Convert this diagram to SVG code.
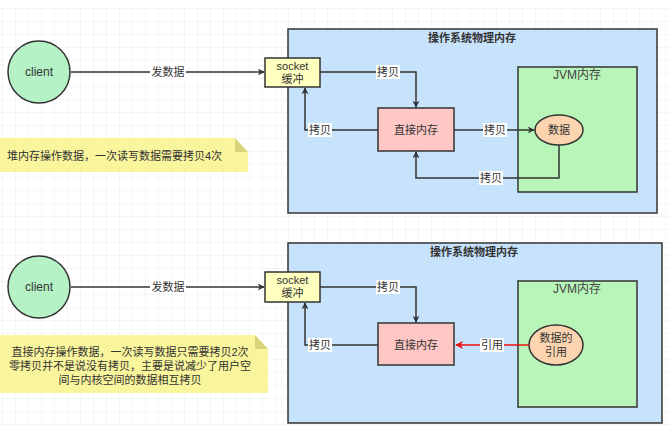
<svg xmlns="http://www.w3.org/2000/svg" width="670" height="435" viewBox="0 0 670 435">
<defs>
<pattern id="grid" width="13" height="13" patternUnits="userSpaceOnUse" x="2" y="8">
<path d="M13 0H0V13" fill="none" stroke="#ebebeb" stroke-width="1"/>
</pattern>
<marker id="ah" viewBox="0 0 10 10" refX="9" refY="5" markerWidth="7" markerHeight="7" orient="auto" markerUnits="userSpaceOnUse">
<path d="M0 0L10 5L0 10L3 5Z" fill="#333"/>
</marker>
<marker id="ahr" viewBox="0 0 10 10" refX="9" refY="5" markerWidth="8" markerHeight="8" orient="auto" markerUnits="userSpaceOnUse">
<path d="M0 0L10 5L0 10L3 5Z" fill="#ee1111"/>
</marker>
<style>
text{font-family:"Liberation Sans","Noto Sans CJK SC",sans-serif;font-size:11px;fill:#333;}
.c{text-anchor:middle;}
.os{fill:#c7e2fb;stroke:#333;stroke-width:1.5;}
.jvm{fill:#b8f5b8;stroke:#333;stroke-width:1.5;}
.dm{fill:#ffc6c6;stroke:#333;stroke-width:1.5;}
.sock{fill:#ffffc0;stroke:#333;stroke-width:1.5;}
.cl{fill:#b5f2c6;stroke:#333;stroke-width:1.5;}
.dat{fill:#fcd5b0;stroke:#333;stroke-width:1.5;}
.note{fill:#f9f59c;}
.fold{fill:#d9d47a;}
.ln{fill:none;stroke:#333;stroke-width:1.5;marker-end:url(#ah);}
.lnr{fill:none;stroke:#ee1111;stroke-width:1.5;marker-end:url(#ahr);}
.lb{fill:#fff;}
.title{font-weight:bold;}
.jl{fill:#444;font-size:12px;}
</style>
</defs>
<rect width="670" height="435" fill="#fff"/>
<rect x="0" y="8" width="670" height="418" fill="url(#grid)"/>

<!-- Top section -->
<g id="os1"><rect class="os" x="288" y="29" width="369" height="184"/><text class="c title" x="472" y="42">操作系统物理内存</text></g>
<g id="jvm1"><rect class="jvm" x="518" y="67" width="119" height="125"/><text class="c jl" x="577" y="79">JVM内存</text></g>
<g id="client1"><circle class="cl" cx="39" cy="72" r="31"/><text class="c" x="39" y="76" style="font-size:12px">client</text></g>
<g id="sock1"><rect class="sock" x="265" y="58" width="55" height="29"/><text class="c" x="292.5" y="70">socket</text><text class="c" x="292.5" y="83">缓冲</text></g>
<g id="dm1"><rect class="dm" x="378" y="108" width="76" height="43"/><text class="c" x="416" y="134">直接内存</text></g>
<g id="data1"><ellipse class="dat" cx="559" cy="130" rx="24" ry="15"/><text class="c" x="559" y="134">数据</text></g>
<g id="note1"><path class="note" d="M0 138H235L248 152V172H0Z"/><path class="fold" d="M235 138V152H248Z"/><text x="7" y="160">堆内存操作数据，一次读写数据需要拷贝4次</text></g>

<g id="edges1">
<path class="ln" d="M71 72H264"/>
<rect class="lb" x="150" y="65" width="36" height="14"/><text class="c" x="168" y="76">发数据</text>
<path class="ln" d="M320 72H416V107"/>
<rect class="lb" x="376" y="65" width="24" height="14"/><text class="c" x="388" y="76">拷贝</text>
<path class="ln" d="M378 130H305V88"/>
<rect class="lb" x="308" y="123" width="24" height="14"/><text class="c" x="320" y="134">拷贝</text>
<path class="ln" d="M454 130H534"/>
<rect class="lb" x="483" y="123" width="24" height="14"/><text class="c" x="495" y="134">拷贝</text>
<path class="ln" d="M559 145V178H416V152"/>
<rect class="lb" x="479" y="171" width="24" height="14"/><text class="c" x="491" y="182">拷贝</text>
</g>

<!-- Bottom section -->
<g id="os2"><rect class="os" x="288" y="243" width="374" height="180"/><text class="c title" x="474" y="256">操作系统物理内存</text></g>
<g id="jvm2"><rect class="jvm" x="518" y="281" width="119" height="126"/><text class="c jl" x="577" y="293">JVM内存</text></g>
<g id="client2"><circle class="cl" cx="39" cy="287" r="31"/><text class="c" x="39" y="291" style="font-size:12px">client</text></g>
<g id="sock2"><rect class="sock" x="265" y="272" width="55" height="30"/><text class="c" x="292.5" y="284">socket</text><text class="c" x="292.5" y="297">缓冲</text></g>
<g id="dm2"><rect class="dm" x="378" y="323" width="76" height="42"/><text class="c" x="416" y="349">直接内存</text></g>
<g id="data2"><ellipse class="dat" cx="556" cy="345" rx="27" ry="20"/><text class="c" x="556" y="342">数据的</text><text class="c" x="556" y="356">引用</text></g>
<g id="note2"><path class="note" d="M0 335H255L268 349V393H0Z"/><path class="fold" d="M255 335V349H268Z"/>
<text class="c" x="130" y="356">直接内存操作数据，一次读写数据只需要拷贝2次</text>
<text class="c" x="130" y="370">零拷贝并不是说没有拷贝，主要是说减少了用户空</text>
<text class="c" x="130" y="384">间与内核空间的数据相互拷贝</text></g>

<g id="edges2">
<path class="ln" d="M71 287H264"/>
<rect class="lb" x="150" y="280" width="36" height="14"/><text class="c" x="168" y="291">发数据</text>
<path class="ln" d="M320 287H416V322"/>
<rect class="lb" x="376" y="280" width="24" height="14"/><text class="c" x="388" y="291">拷贝</text>
<path class="ln" d="M378 345H305V303"/>
<rect class="lb" x="308" y="338" width="24" height="14"/><text class="c" x="320" y="349">拷贝</text>
<path class="lnr" d="M529 345H456"/>
<rect class="lb" x="480" y="338" width="24" height="14"/><text class="c" x="492" y="349">引用</text>
</g>
</svg>
